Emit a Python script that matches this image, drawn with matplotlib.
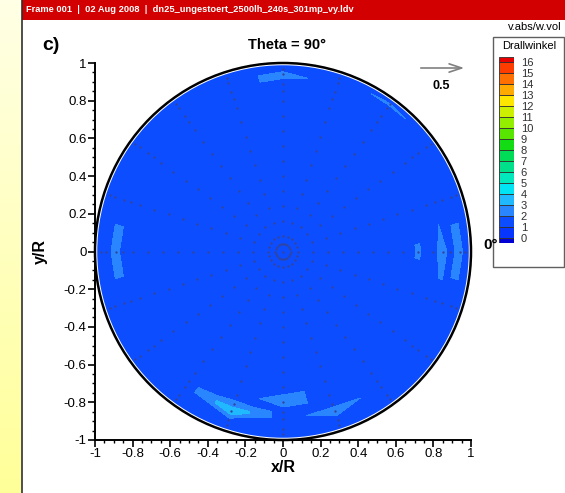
import numpy as np
import matplotlib
matplotlib.use("Agg")
import matplotlib.pyplot as plt
import matplotlib.tri as mtri
from matplotlib.colors import ListedColormap, BoundaryNorm
from matplotlib.patches import Circle, Rectangle
from matplotlib.transforms import blended_transform_factory

plt.rcParams['font.family'] = ['Liberation Sans', 'DejaVu Sans']

# ---------------- data ----------------
title = "Theta = 90°"
header = "Frame 001  |  02 Aug 2008  |  dn25_ungestoert_2500lh_240s_301mp_vy.ldv"
legend_title = "Drallwinkel"
levels = list(range(0, 17))            # contour levels 0..16
level_colors = [                       # colour of interval [k, k+1]
    '#0636ff', '#0c4eff', '#2a86ff', '#20b8ff', '#00e4f4', '#00e8bc',
    '#00e08a', '#00dc58', '#14dc14', '#58e600', '#94ee00', '#ccf000',
    '#ffe600', '#ffaa00', '#ff7000', '#ff3c00']
color_below = '#0000d4'
color_above = '#e60000'

ray_angles_deg = [0, 18, 36, 54, 72, 90, 108, 126, 144, 162,
                  180, 198, 216, 234, 252, 270, 288, 306, 324, 342]
radii = [0.04, 0.08, 0.16, 0.24, 0.32, 0.40, 0.48, 0.56,
         0.64, 0.72, 0.80, 0.85, 0.89, 0.94, 0.97]
center_value = 1.5
# swirl angle at each measurement point: one row per ray, one column per radius
swirl = [
    [1.5, 1.5, 1.5, 1.5, 1.5, 1.5, 1.5, 1.5, 1.5, 2.1, 1.5, 2.6, 1.5, 2.5, 1.5],  # 0
    [1.5, 1.5, 1.5, 1.5, 1.5, 1.5, 1.5, 1.5, 1.5, 1.5, 1.5, 1.5, 1.5, 1.5, 1.5],  # 18
    [1.5, 1.5, 1.5, 1.5, 1.5, 1.5, 1.5, 1.5, 1.5, 1.5, 1.5, 1.5, 1.5, 1.5, 1.5],  # 36
    [1.5, 1.5, 1.5, 1.5, 1.5, 1.5, 1.5, 1.5, 1.5, 1.5, 1.5, 1.5, 1.5, 1.5, 2.3],  # 54
    [1.5, 1.5, 1.5, 1.5, 1.5, 1.5, 1.5, 1.5, 1.5, 1.5, 1.5, 1.5, 1.5, 1.5, 1.5],  # 72
    [1.5, 1.5, 1.5, 1.5, 1.5, 1.5, 1.5, 1.5, 1.5, 1.5, 1.5, 1.5, 1.5, 2.4, 1.5],  # 90
    [1.5, 1.5, 1.5, 1.5, 1.5, 1.5, 1.5, 1.5, 1.5, 1.5, 1.5, 1.5, 1.5, 1.5, 1.5],  # 108
    [1.5, 1.5, 1.5, 1.5, 1.5, 1.5, 1.5, 1.5, 1.5, 1.5, 1.5, 1.5, 1.5, 1.5, 1.5],  # 126
    [1.5, 1.5, 1.5, 1.5, 1.5, 1.5, 1.5, 1.5, 1.5, 1.5, 1.5, 1.5, 1.5, 1.5, 1.5],  # 144
    [1.5, 1.5, 1.5, 1.5, 1.5, 1.5, 1.5, 1.5, 1.5, 1.5, 1.5, 1.5, 1.5, 1.5, 1.5],  # 162
    [1.5, 1.5, 1.5, 1.5, 1.5, 1.5, 1.5, 1.5, 1.5, 1.5, 1.5, 1.5, 2.5, 1.5, 1.5],  # 180
    [1.5, 1.5, 1.5, 1.5, 1.5, 1.5, 1.5, 1.5, 1.5, 1.5, 1.5, 1.5, 1.5, 1.5, 1.5],  # 198
    [1.5, 1.5, 1.5, 1.5, 1.5, 1.5, 1.5, 1.5, 1.5, 1.5, 1.5, 1.5, 1.5, 1.5, 1.5],  # 216
    [1.5, 1.5, 1.5, 1.5, 1.5, 1.5, 1.5, 1.5, 1.5, 1.5, 1.5, 1.5, 1.5, 1.5, 1.5],  # 234
    [1.5, 1.5, 1.5, 1.5, 1.5, 1.5, 1.5, 1.5, 1.5, 1.5, 1.5, 2.3, 3.8, 1.5, 1.5],  # 252
    [1.5, 1.5, 1.5, 1.5, 1.5, 1.5, 1.5, 1.5, 1.5, 1.5, 2.5, 1.5, 1.5, 1.5, 1.5],  # 270
    [1.5, 1.5, 1.5, 1.5, 1.5, 1.5, 1.5, 1.5, 1.5, 1.5, 1.5, 1.5, 2.6, 1.5, 1.5],  # 288
    [1.5, 1.5, 1.5, 1.5, 1.5, 1.5, 1.5, 1.5, 1.5, 1.5, 1.5, 1.5, 1.5, 1.5, 1.5],  # 306
    [1.5, 1.5, 1.5, 1.5, 1.5, 1.5, 1.5, 1.5, 1.5, 1.5, 1.5, 1.5, 1.5, 1.5, 1.5],  # 324
    [1.5, 1.5, 1.5, 1.5, 1.5, 1.5, 1.5, 1.5, 1.5, 1.5, 1.5, 1.5, 1.5, 1.5, 1.5],  # 342
]
axis_ticks = [-1, -0.8, -0.6, -0.4, -0.2, 0, 0.2, 0.4, 0.6, 0.8, 1]
axis_tick_labels = ['-1', '-0.8', '-0.6', '-0.4', '-0.2', '0',
                    '0.2', '0.4', '0.6', '0.8', '1']

# ---------------- figure ----------------
W, H = 565, 493
fig = plt.figure(figsize=(W / 100, H / 100), dpi=100)

# background / frame axes in pixel coordinates
bg = fig.add_axes([0, 0, 1, 1])
bg.set_xlim(0, W)
bg.set_ylim(H, 0)
bg.axis('off')
grad = np.linspace(0, 1, 256).reshape(-1, 1)
ycmap = ListedColormap(np.column_stack([
    np.ones(256), np.ones(256), np.linspace(0.90, 0.60, 256)]))
bg.imshow(grad, cmap=ycmap, extent=[0, 21, H, 0], aspect='auto', zorder=0)
bg.add_patch(Rectangle((21, 0), W - 21, H, facecolor='white', edgecolor='none', zorder=1))
bg.plot([21.5, 21.5], [0, H], color='#303030', lw=1.2, zorder=3)
bg.add_patch(Rectangle((22, 0), W - 22, 19.5, facecolor='#d20000', edgecolor='none', zorder=2))
bg.text(26, 10, header, color='white', fontsize=6.7, fontweight='bold',
        va='center', ha='left', zorder=4)
bg.text(562, 27, "v.abs/w.vol", fontsize=8, ha='right', va='center', zorder=4)
bg.text(42, 45, "c)", fontsize=14, fontweight='bold', ha='left', va='center', zorder=4)
bg.text(287, 45, title, fontsize=10.5, fontweight='bold', ha='center', va='center', zorder=4)
bg.text(283, 468, "x/R", fontsize=11.5, fontweight='bold', ha='center', va='center', zorder=4)
bg.text(40, 251, "y/R", fontsize=11.5, fontweight='bold', ha='center', va='center',
        rotation=90, zorder=4)
bg.text(483, 245, "0°", fontsize=11, fontweight='bold', ha='left', va='center', zorder=4)
# reference vector
bg.annotate("", xy=(467, 68), xytext=(418, 68),
            arrowprops=dict(arrowstyle='->,head_length=0.9,head_width=0.3',
                            color='#808080', lw=1.2), zorder=4)
bg.text(441, 86, "0.5", fontsize=9, fontweight='bold', ha='center', va='center', zorder=4)
# legend frame
bg.add_patch(Rectangle((493, 37), 71, 230, facecolor='white', edgecolor='#606060',
                       lw=1.0, zorder=3))
bg.text(529, 46, legend_title, fontsize=8, ha='center', va='center', zorder=4)

# ---------------- main axes ----------------
ax = fig.add_axes([95 / W, (H - 440) / H, 376 / W, 377 / H])
ax.set_xlim(-1, 1)
ax.set_ylim(-1, 1)
ax.patch.set_alpha(0)

bounds = [levels[0] - 1] + levels + [levels[-1] + 1]
cmap = ListedColormap([color_below] + level_colors + [color_above])
norm = BoundaryNorm(bounds, cmap.N)

ang = np.deg2rad(np.array(ray_angles_deg))
rr = np.array(radii)
px = [0.0] + list((np.cos(ang)[:, None] * rr[None, :]).ravel())
py = [0.0] + list((np.sin(ang)[:, None] * rr[None, :]).ravel())
pv = [center_value] + list(np.array(swirl).ravel())
px, py, pv = np.array(px), np.array(py), np.array(pv)

# domain background (pipe cross-section) coloured by the base level
base_color = cmap(norm(center_value))
ax.add_patch(Circle((0, 0), 0.988, facecolor=base_color, edgecolor='none', zorder=1))
tri = mtri.Triangulation(px, py)
ax.tricontourf(tri, pv, levels=bounds, cmap=cmap, norm=norm, zorder=2)
ax.plot(px, py, linestyle='none', marker='o', markersize=1.7,
        markeredgewidth=0, color='#33449a', zorder=3)
ax.add_patch(Circle((0, 0), 1.0, facecolor='none', edgecolor='black', lw=1.8,
                    zorder=4, clip_on=False))

for s in ['top', 'right']:
    ax.spines[s].set_visible(False)
for s in ['left', 'bottom']:
    ax.spines[s].set_linewidth(1.4)
ax.set_xticks(axis_ticks)
ax.set_xticklabels(axis_tick_labels)
ax.set_yticks(axis_ticks)
ax.set_yticklabels(axis_tick_labels)
ax.set_xticks(np.arange(-1, 1.001, 0.05), minor=True)
ax.set_yticks(np.arange(-1, 1.001, 0.05), minor=True)
ax.tick_params(which='major', direction='out', length=5, width=1.2, labelsize=9.5, pad=1)
ax.tick_params(which='minor', direction='out', length=2.5, width=1.0)

# ---------------- legend (contour level boxes) ----------------
lax = fig.add_axes([499 / W, (H - 243) / H, 15 / W, 186 / H])
ext = 5 / 11
lax.set_xlim(0, 1)
lax.set_ylim(levels[0] - ext, levels[-1] + ext)
lax.axis('off')
lax.bar([0.5], [ext], bottom=[levels[0] - ext], width=1, color=color_below,
        edgecolor='#303030', lw=0.6)
for k in range(len(levels) - 1):
    lax.bar([0.5], [levels[k + 1] - levels[k]], bottom=[levels[k]], width=1,
            color=level_colors[k], edgecolor='#303030', lw=0.6)
lax.bar([0.5], [ext], bottom=[levels[-1]], width=1, color=color_above,
        edgecolor='#303030', lw=0.6)
tr = blended_transform_factory(lax.transAxes, lax.transData)
for lv in levels:
    lax.text(1.45, lv - 0.12, str(lv), transform=tr, fontsize=8, color='#303030',
             ha='left', va='center', clip_on=False)

fig.savefig("out.png", dpi=100)
